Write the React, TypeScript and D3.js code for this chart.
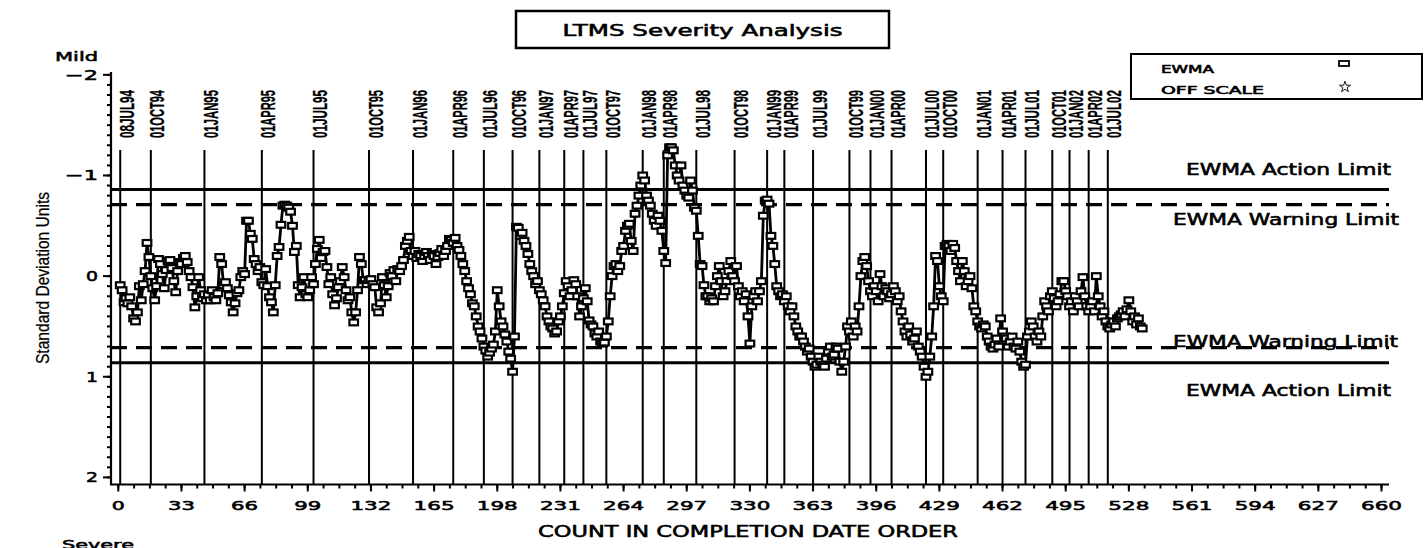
import React from "react";
import * as d3 from "d3";

// EWMA values (standard deviation units), chunks keyed by the first count of each chunk
const ewmaSegments: [number, number[]][] = [
  [1, [0.09, 0.14, 0.26, 0.22, 0.27, 0.21, 0.3, 0.42, 0.45, 0.36, 0.1]],
  [12, [0.24, 0.08, -0.05, -0.33, -0.19, 0.0, 0.12, 0.24, 0.1, -0.17]],
  [22, [-0.12, -0.02, 0.12, -0.06, -0.15, -0.16, -0.08, 0.05, 0.16, -0.05, -0.14]],
  [33, [-0.12, -0.18, -0.2, -0.14, -0.05, 0.01, 0.11, 0.31, 0.2, 0.01, 0.14]],
  [44, [0.22, 0.18, 0.24, 0.19, 0.24, 0.14, 0.21, 0.24, 0.17, -0.19, -0.12]],
  [55, [0.09, 0.06, 0.12, 0.19, 0.26, 0.36, 0.27, 0.17, 0.14, 0.01, -0.05, -0.02]],
  [67, [-0.55, -0.55, -0.42, -0.37, -0.17, -0.12, -0.05, -0.09, 0.06, 0.09, -0.07, 0.1, 0.21, 0.26, 0.36]],
  [82, [0.09, -0.2, -0.29, -0.51, -0.7, -0.71, -0.7, -0.68, -0.64, -0.5, -0.24]],
  [93, [-0.3, 0.09, 0.21, 0.11, 0.01, 0.18, 0.21, 0.14, 0.01, 0.08]],
  [103, [-0.12, -0.27, -0.36, -0.18, -0.24, -0.25, -0.09, 0.08]],
  [111, [0.01, 0.18, 0.29, 0.22, 0.11, 0.05, -0.09, 0.01, 0.14, 0.24, 0.21]],
  [122, [0.36, 0.46, 0.36, 0.14, -0.19, -0.12, 0.04]],
  [129, [0.04, 0.08, 0.04, 0.03, 0.08, 0.11, 0.31, 0.36, 0.27, 0.01, 0.09, 0.21]],
  [141, [0.1, -0.03, 0.0, -0.06, 0.05, -0.07, -0.05]],
  [148, [-0.1, -0.16, -0.3, -0.35, -0.39, -0.25]],
  [154, [-0.2, -0.25, -0.18, -0.22, -0.2, -0.15, -0.2, -0.24, -0.2, -0.16, -0.22, -0.2, -0.12, -0.19, -0.23, -0.27, -0.2, -0.25]],
  [172, [-0.3, -0.37, -0.36, -0.33, -0.38, -0.3, -0.26]],
  [179, [-0.2, -0.12, -0.05, 0.05, 0.12, 0.18, 0.27, 0.3, 0.4, 0.5]],
  [189, [0.55, 0.62, 0.7, 0.74, 0.8, 0.76, 0.72, 0.68]],
  [197, [0.55, 0.14, 0.3, 0.45, 0.5, 0.58, 0.65]],
  [204, [0.75, 0.82, 0.95, 0.6]],
  [208, [-0.49, -0.48, -0.4, -0.43, -0.35, -0.3, -0.22]],
  [215, [-0.12, -0.05, 0.0, 0.08, 0.05, 0.14, 0.18, 0.24, 0.3]],
  [224, [0.4, 0.45, 0.5, 0.52, 0.57, 0.55, 0.45, 0.4]],
  [232, [0.3, 0.17, 0.05, 0.1, 0.2, 0.14, 0.04]],
  [239, [0.08, 0.2, 0.4, 0.3, 0.22, 0.12, 0.25]],
  [246, [0.44, 0.48, 0.5, 0.57, 0.6, 0.55]],
  [252, [0.65, 0.67, 0.66, 0.6]],
  [256, [0.45, 0.2, 0.0]],
  [259, [-0.1, -0.12, -0.05, -0.1]],
  [263, [-0.25, -0.3, -0.45, -0.5, -0.52, -0.35, -0.25]],
  [270, [-0.62, -0.7, -0.8, -0.9, -1.0, -0.95, -0.8]],
  [277, [-0.75, -0.7, -0.62, -0.55, -0.5, -0.6, -0.55, -0.45]],
  [285, [-0.25, -0.13]],
  [287, [-1.2, -1.28, -1.28, -1.25, -1.1]],
  [292, [-1.0, -0.95, -1.1, -0.9, -0.85, -0.8, -0.78, -0.95, -0.85]],
  [301, [-0.68, -0.65, -0.4]],
  [304, [-0.12, -0.1, 0.09, 0.2]],
  [308, [0.2, 0.25, 0.22, 0.25, 0.1, 0.0, -0.1, 0.05, 0.2, 0.15, 0.05]],
  [319, [-0.05, -0.15, 0.0, 0.05, -0.1]],
  [324, [0.1, 0.2, 0.15, 0.25, 0.18, 0.4, 0.67]],
  [331, [0.3, 0.2, 0.15, 0.25, 0.15, 0.05]],
  [337, [-0.6, -0.75, -0.76, -0.72]],
  [341, [-0.4, -0.3, -0.12, 0.1, 0.15, 0.2]],
  [347, [0.18, 0.25, 0.2, 0.3, 0.35, 0.3, 0.4, 0.5, 0.55, 0.6]],
  [357, [0.6, 0.65, 0.7, 0.75, 0.72, 0.8, 0.85, 0.9, 0.88, 0.8, 0.85, 0.88, 0.9, 0.82]],
  [371, [0.75, 0.7, 0.8, 0.78, 0.7, 0.72, 0.85, 0.95]],
  [379, [0.85, 0.7, 0.5, 0.55, 0.45, 0.6, 0.5, 0.55]],
  [387, [0.3, 0.0, -0.15, -0.19, -0.1]],
  [392, [0.05, 0.15, 0.2, 0.1, 0.15, 0.25, -0.02, 0.1, 0.2, 0.12]],
  [402, [0.15, 0.22, 0.18, 0.1, 0.15, 0.25, 0.2]],
  [409, [0.35, 0.45, 0.55, 0.6, 0.5, 0.58, 0.65, 0.62, 0.55]],
  [418, [0.7, 0.75, 0.8, 0.9, 1.0, 0.95, 0.8, 0.6]],
  [426, [0.3, -0.2, -0.15, 0.1, 0.2, 0.25]],
  [432, [-0.3, -0.32, -0.3, -0.25, -0.32, -0.28, -0.15, -0.05, 0.05]],
  [441, [-0.15, -0.05, 0.1, 0.05, 0.0, 0.12]],
  [447, [0.3, 0.35, 0.45, 0.5, 0.52, 0.48, 0.5]],
  [454, [0.6, 0.65, 0.7, 0.72, 0.68, 0.62, 0.7, 0.42]],
  [462, [0.55, 0.6, 0.62, 0.7, 0.65, 0.6, 0.7, 0.72, 0.65, 0.75]],
  [472, [0.85, 0.9, 0.88, 0.6, 0.55, 0.45, 0.5, 0.6, 0.65]],
  [481, [0.55, 0.6, 0.4, 0.25, 0.3, 0.35, 0.2, 0.15, 0.22, 0.3, 0.25, 0.18]],
  [493, [0.05, 0.05, 0.15, 0.2, 0.3, 0.25, 0.35, 0.2, 0.25, 0.3, 0.15, 0.01]],
  [505, [0.2, 0.3, 0.35, 0.3, 0.25, 0.35, 0.0]],
  [512, [0.2, 0.3, 0.4, 0.35, 0.45, 0.5, 0.52, 0.48, 0.45, 0.5, 0.42, 0.4]],
  [524, [0.38, 0.35, 0.4, 0.33, 0.24, 0.35, 0.45, 0.4, 0.48, 0.42, 0.5, 0.52]],
];

const dateLabels = [
  "08JUL94", "01OCT94", "01JAN95", "01APR95", "01JUL95", "01OCT95", "01JAN96", "01APR96",
  "01JUL96", "01OCT96", "01JAN97", "01APR97", "01JUL97", "01OCT97", "01JAN98", "01APR98",
  "01JUL98", "01OCT98", "01JAN99", "01APR99", "01JUL99", "01OCT99", "01JAN00", "01APR00",
  "01JUL00", "01OCT00", "01JAN01", "01APR01", "01JUL01", "01OCT01", "01JAN02", "01APR02", "01JUL02",
];
const dateCounts = [
  1, 17, 45, 75, 102, 131, 154, 175, 191, 206, 220, 233, 243, 255, 274, 285,
  302, 322, 339, 348, 363, 382, 393, 404, 422, 431, 449, 462, 474, 488, 497, 507, 517,
];

const xTicks = d3.range(0, 661, 33);
const xMinorTicks = d3.range(0, 660.01, 8.25);
const yTicks = [-2, -1, 0, 1, 2];
const yMinorTicks = d3.range(-2, 2.001, 0.1);
const actionLimit = 0.86;
const warningLimit = 0.71;

const SAS = "'DejaVu Sans', Verdana, sans-serif";
const NARROW = "'Liberation Sans Narrow', 'Liberation Sans', Arial, sans-serif";

export default function App() {
  const W = 1426;
  const H = 548;
  const x = d3.scaleLinear().domain([0, 660]).range([118.3, 1381.5]);
  const y = d3.scaleLinear().domain([-2, 2]).range([74.85, 477.4]);
  const axisLeft = 111;
  const axisBottom = 484.5;
  const plotRight = 1389;

  const points: { c: number; v: number }[] = [];
  ewmaSegments.forEach(([start, vals]) => vals.forEach((v, j) => points.push({ c: start + j, v })));

  const line = d3
    .line<{ c: number; v: number }>()
    .x((d) => x(d.c))
    .y((d) => y(d.v));

  const fmtY = (v: number) => (v < 0 ? "\u2212" + Math.abs(v) : String(v));
  const star = d3.symbol().type(d3.symbolStar).size(38)() as string;

  const wideText = (
    s: string,
    px: number,
    py: number,
    len: number,
    size: number,
    anchor: "start" | "middle" | "end" = "start"
  ) => (
    <text
      x={px}
      y={py}
      fontFamily={SAS}
      fontSize={size}
      textAnchor={anchor}
      textLength={len}
      lengthAdjust="spacingAndGlyphs"
      fill="#000"
      stroke="#000"
      strokeWidth={0.55}
    >
      {s}
    </text>
  );

  return (
    <svg
      width={W}
      height={H}
      style={{ position: "absolute", left: 0, top: 0, background: "#fff" }}
    >
      <rect x={0} y={0} width={W} height={H} fill="#fff" />

      {/* title */}
      <rect x={516} y={11} width={373} height={37} fill="none" stroke="#000" strokeWidth={2.5} />
      {wideText("LTMS Severity Analysis", 702.5, 36, 280, 15, "middle")}

      {/* legend */}
      <rect x={1131} y={54} width={291} height={45} fill="none" stroke="#000" strokeWidth={2} />
      {wideText("EWMA", 1161, 73, 53, 10)}
      {wideText("OFF SCALE", 1161, 93.5, 103, 10)}
      <rect x={1339} y={61} width={10} height={5} fill="#fff" stroke="#000" strokeWidth={1.8} />
      <path d={star} transform="translate(1345,87)" fill="#fff" stroke="#000" strokeWidth={0.9} />

      {/* limit lines */}
      <line x1={axisLeft} x2={plotRight} y1={y(-actionLimit)} y2={y(-actionLimit)} stroke="#000" strokeWidth={3} />
      <line x1={axisLeft} x2={plotRight} y1={y(actionLimit)} y2={y(actionLimit)} stroke="#000" strokeWidth={3} />
      <line x1={axisLeft} x2={plotRight} y1={y(-warningLimit)} y2={y(-warningLimit)} stroke="#000" strokeWidth={3.2} strokeDasharray="16 9" />
      <line x1={axisLeft} x2={plotRight} y1={y(warningLimit)} y2={y(warningLimit)} stroke="#000" strokeWidth={3.2} strokeDasharray="16 9" />

      {wideText("EWMA Action Limit", 1391, y(-actionLimit) - 15, 205, 15, "end")}
      {wideText("EWMA Warning Limit", 1399, y(-warningLimit) + 20.5, 226, 15, "end")}
      {wideText("EWMA Warning Limit", 1398, y(warningLimit) - 0.5, 225, 15, "end")}
      {wideText("EWMA Action Limit", 1391, y(actionLimit) + 33, 205, 15, "end")}

      {/* date reference lines and labels */}
      {dateCounts.map((c, i) => (
        <g key={"d" + i}>
          <line x1={x(c)} x2={x(c)} y1={150} y2={axisBottom} stroke="#000" strokeWidth={2} />
          <text
            transform={`translate(${x(c) + 13.5},138) rotate(-90)`}
            fontFamily={NARROW}
            fontWeight="bold"
            fontSize={20.5}
            textLength={48}
            lengthAdjust="spacingAndGlyphs"
            fill="#000"
            stroke="#000"
            strokeWidth={0.3}
          >
            {dateLabels[i]}
          </text>
        </g>
      ))}

      {/* data */}
      <path d={line(points) as string} fill="none" stroke="#000" strokeWidth={2.8} strokeLinejoin="round" />
      {points.map((p, i) => (
        <rect
          key={"p" + i}
          x={x(p.c) - 4.3}
          y={y(p.v) - 2.9}
          width={8.6}
          height={5.8}
          fill="#fff"
          stroke="#000"
          strokeWidth={2.2}
        />
      ))}

      {/* y axis */}
      <line x1={axisLeft} x2={axisLeft} y1={72} y2={axisBottom} stroke="#000" strokeWidth={2.2} />
      {yMinorTicks.map((t, i) => (
        <line key={"ym" + i} x1={axisLeft - 4} x2={axisLeft} y1={y(t)} y2={y(t)} stroke="#000" strokeWidth={2} />
      ))}
      {yTicks.map((t) => (
        <g key={"y" + t}>
          <line x1={axisLeft - 8} x2={axisLeft} y1={y(t)} y2={y(t)} stroke="#000" strokeWidth={2} />
          {wideText(fmtY(t), 98, y(t) + 5, t < 0 ? 33 : 12, 14, "end")}
        </g>
      ))}
      {wideText("Mild", 55, 61, 43, 13)}
      {wideText("Severe", 62, 549, 72, 13)}
      <text
        transform="translate(49,278) rotate(-90)"
        fontFamily={NARROW}
        fontSize={19}
        textAnchor="middle"
        textLength={172}
        lengthAdjust="spacingAndGlyphs"
        fill="#000"
        stroke="#000"
        strokeWidth={0.25}
      >
        Standard Deviation Units
      </text>

      {/* x axis */}
      <line x1={axisLeft - 1} x2={plotRight} y1={axisBottom} y2={axisBottom} stroke="#000" strokeWidth={2.2} />
      {xMinorTicks.map((t, i) => (
        <line key={"xm" + i} x1={x(t)} x2={x(t)} y1={axisBottom} y2={axisBottom + 4} stroke="#000" strokeWidth={2} />
      ))}
      {xTicks.map((t) => (
        <g key={"x" + t}>
          <line x1={x(t)} x2={x(t)} y1={axisBottom} y2={axisBottom + 7} stroke="#000" strokeWidth={2} />
          {wideText(String(t), x(t), 510, String(t).length * 14 - 1, 12.5, "middle")}
        </g>
      ))}
      {wideText("COUNT IN COMPLETION DATE ORDER", 748, 537, 420, 15, "middle")}
    </svg>
  );
}
